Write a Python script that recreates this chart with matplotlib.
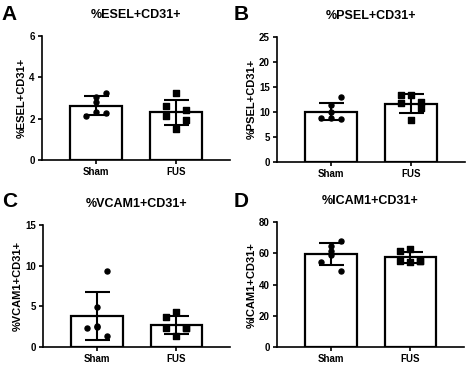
import matplotlib
matplotlib.use("Agg")
import matplotlib.pyplot as plt
import numpy as np

plt.rcParams['font.family'] = ['Liberation Sans', 'DejaVu Sans']
plt.rcParams['font.weight'] = 'bold'

groups = ['Sham', 'FUS']

esel_sham = [3.22, 3.03, 2.78, 2.30, 2.14, 2.25]
esel_fus = [3.25, 2.61, 2.41, 2.12, 1.93, 1.48]

psel_sham = [12.9, 11.3, 9.9, 8.7, 8.7, 8.6]
psel_fus = [13.3, 13.3, 12.0, 11.8, 10.8, 8.3]

vcam_sham = [9.37, 4.93, 2.55, 2.47, 2.26, 1.32]
vcam_fus = [4.31, 3.62, 2.34, 2.26, 2.26, 1.32]

icam_sham = [68.0, 64.8, 61.8, 59.1, 54.8, 48.8]
icam_fus = [62.9, 61.6, 55.4, 55.2, 55.0, 54.8]

# x jitter (in category units) for the 6 dots of each group
jitter_sham = [0.125, 0.0, 0.0, 0.0, -0.125, 0.125]
jitter_fus = [0.0, -0.125, 0.125, -0.125, 0.125, 0.0]

panels = [
    ('A', '%ESEL+CD31+', esel_sham, esel_fus, 6, [0, 2, 4, 6]),
    ('B', '%PSEL+CD31+', psel_sham, psel_fus, 25, [0, 5, 10, 15, 20, 25]),
    ('C', '%VCAM1+CD31+', vcam_sham, vcam_fus, 15, [0, 5, 10, 15]),
    ('D', '%ICAM1+CD31+', icam_sham, icam_fus, 80, [0, 20, 40, 60, 80]),
]

positions = [
    [0.0885, 0.563, 0.400, 0.339],
    [0.5875, 0.558, 0.400, 0.342],
    [0.0907, 0.053, 0.398, 0.332],
    [0.5875, 0.051, 0.398, 0.342],
]
letter_pos = [(0.004, 0.985), (0.495, 0.985), (0.004, 0.475), (0.495, 0.475)]

fig = plt.figure(figsize=(4.71, 3.66), dpi=100)

for i, (letter, title, sham, fus, ymax, yticks) in enumerate(panels):
    ax = fig.add_axes(positions[i])
    for k, (vals, jit, mk) in enumerate([(sham, jitter_sham, 'o'), (fus, jitter_fus, 's')]):
        m = np.mean(vals)
        sd = np.std(vals, ddof=1)
        ax.bar(k, m, width=0.65, color='white', edgecolor='black', linewidth=1.6, zorder=1)
        ax.scatter(np.array(jit) + k, vals, marker=mk, s=13, color='black', zorder=3)
        ax.errorbar(k, m, yerr=sd, color='black', capsize=9, elinewidth=1.5,
                    capthick=1.5, zorder=4)
    ax.set_xlim(-0.68, 1.675)
    ax.set_ylim(0, ymax)
    ax.set_yticks(yticks)
    ax.set_xticks([0, 1])
    ax.set_xticklabels(groups)
    ax.spines['top'].set_visible(False)
    ax.spines['right'].set_visible(False)
    ax.spines['left'].set_linewidth(1.2)
    ax.spines['bottom'].set_linewidth(1.2)
    ax.tick_params(labelsize=7, width=1.2, length=3, pad=2)
    ax.set_ylabel(title, fontsize=8, fontweight='bold', labelpad=1.5)
    ax.set_title(title, fontsize=9, fontweight='bold', pad=13)
    for t in ax.get_xticklabels() + ax.get_yticklabels():
        t.set_fontweight('bold')
    fig.text(letter_pos[i][0], letter_pos[i][1], letter, fontsize=15,
             fontweight='bold', va='top', ha='left')

fig.savefig('out.png', dpi=100)
